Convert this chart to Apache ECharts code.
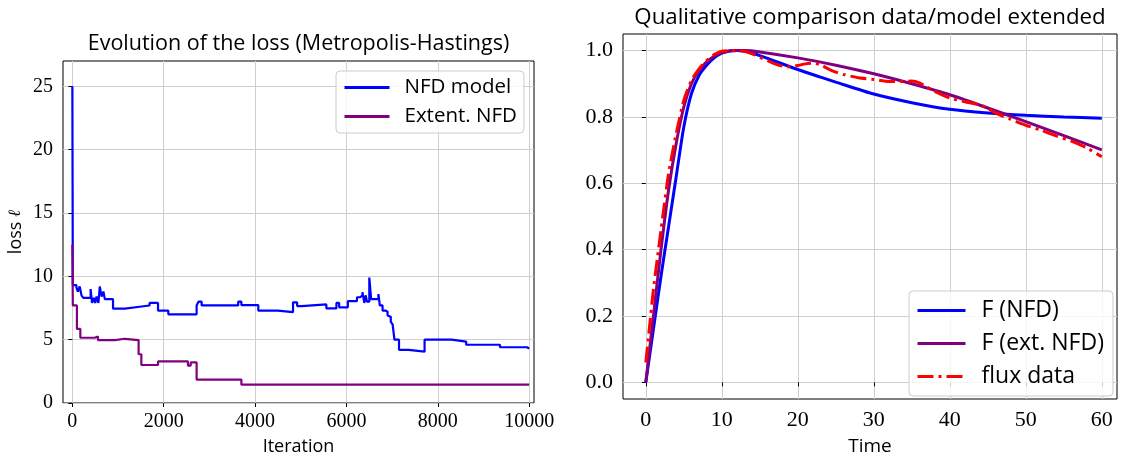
<!DOCTYPE html>
<html><head><meta charset="utf-8">
<script src="https://cdn.jsdelivr.net/npm/echarts@6/dist/echarts.min.js"></script>
<style>html,body{margin:0;padding:0;background:#fff}#c{width:1121px;height:461px}</style>
</head><body><div id="c"></div>
<script>
// ---- Left panel: loss evolution (Metropolis-Hastings) ----
const lossXTicks = [0, 2000, 4000, 6000, 8000, 10000];
const lossYTicks = [0, 5, 10, 15, 20, 25];
const nfdIter = [0,10,90,120,160,200,240,400,430,470,500,530,570,600,640,680,710,890,1150,1470,1690,1875,2100,2720,2760,2830,3630,3700,4070,4500,4830,4920,5020,5560,5780,5840,6030,6230,6300,6350,6390,6420,6450,6500,6540,6700,6730,6790,6850,6900,6930,6970,7010,7050,7150,7360,7710,8300,8620,9360,9950,10000];
const nfdLoss = [25.0,9.3,9.1,8.8,9.2,8.5,8.3,9.0,7.9,8.3,7.9,8.4,7.9,9.2,8.4,8.8,8.2,7.45,7.6,7.7,7.9,7.3,7.0,7.7,8.0,7.7,8.0,7.73,7.3,7.17,7.95,7.65,7.78,7.47,7.9,7.55,8.05,8.35,8.5,8.75,7.9,8.5,8.0,9.9,8.2,8.6,7.7,7.3,7.2,6.9,6.8,6.4,6.2,5.0,4.2,4.05,5.0,4.85,4.6,4.4,4.3,4.3];
const extIter = [0,10,100,175,490,560,930,1150,1450,1510,1875,2530,2590,2720,3700,10000];
const extLoss = [12.5,7.7,5.85,5.15,5.25,4.97,5.07,4.97,3.85,3.0,3.28,2.95,3.2,1.85,1.45,1.45];

// ---- Right panel: qualitative comparison ----
const timeXTicks = [0, 10, 20, 30, 40, 50, 60];
const fluxYTicks = [0, 0.2, 0.4, 0.6, 0.8, 1.0];
const nfdT = [0,1,2,3,4,5,6,7,8,9,10,11,12,13,14,15,17,20,23,25,30,35,40,45,50,55,60];
const nfdF = [0,0.16,0.32,0.47,0.62,0.77,0.87,0.925,0.956,0.978,0.992,0.999,1.0,0.998,0.992,0.985,0.968,0.943,0.92,0.905,0.869,0.843,0.823,0.812,0.805,0.8,0.796];
const extT = [0,1,2,3,4,5,6,7,8,9,10,11,12,13,15,20,25,30,35,40,45,50,55,60];
const extF = [0,0.2,0.4,0.58,0.72,0.83,0.9,0.94,0.966,0.983,0.994,0.999,1.0,1.0,0.996,0.978,0.956,0.93,0.9,0.867,0.827,0.786,0.744,0.701];
const fluxT = [0,0.5,1,1.5,2,3,4,5,6,7,8,9,10,11,12,13,14,15,16,17,18,19,20,21,22,23,24,25,26,28,30,32,34,35,36,37,38,40,42,44,45,46,48,50,52,54,56,58,60];
const fluxF = [0.06,0.17,0.28,0.37,0.46,0.63,0.75,0.85,0.91,0.945,0.97,0.988,0.998,1.0,1.0,0.998,0.99,0.98,0.97,0.96,0.953,0.951,0.955,0.96,0.962,0.957,0.945,0.935,0.928,0.918,0.913,0.907,0.907,0.908,0.903,0.89,0.877,0.857,0.846,0.836,0.826,0.812,0.793,0.775,0.76,0.743,0.727,0.707,0.68];

const zip = (a, b) => a.map((v, i) => [v, b[i]]);
const SANS = 'Open Sans';
const SERIF = 'Liberation Serif';
const gridLine = {show: true, lineStyle: {color: '#cfcfcf', width: 1}};
const tick = vals => ({show: true, inside: false, length: 4, lineStyle: {color: '#000', width: 1}, customValues: vals});
const legendBase = {
  orient: 'vertical', backgroundColor: 'rgba(255,255,255,0.8)', borderColor: '#cccccc', borderWidth: 1, borderRadius: 4,
  itemStyle: {opacity: 0, borderWidth: 0}, lineStyle: {width: 3}
};

const chart = echarts.init(document.getElementById('c'), null, {renderer: 'canvas'});
chart.setOption({
  animation: false,
  backgroundColor: '#fff',
  graphic: [
    {type: 'text', x: 298.5, y: 44, style: {text: 'Evolution of the loss (Metropolis-Hastings)', font: '21.5px ' + SANS, fill: '#000', textAlign: 'center', align: 'center', textVerticalAlign: 'middle', verticalAlign: 'middle'}},
    {type: 'text', x: 870, y: 18, style: {text: 'Qualitative comparison data/model extended', font: '22.3px ' + SANS, fill: '#000', textAlign: 'center', align: 'center', textVerticalAlign: 'middle', verticalAlign: 'middle'}}
  ],
  grid: [
    {left: 63, top: 61, width: 471, height: 351, show: true, borderColor: '#000', borderWidth: 1, backgroundColor: 'transparent', containLabel: false},
    {left: 623, top: 34, width: 494, height: 374, show: true, borderColor: '#000', borderWidth: 1, backgroundColor: 'transparent', containLabel: false}
  ],
  xAxis: [
    {type: 'value', gridIndex: 0, min: -205, max: 10105,
     axisLine: {show: false}, axisTick: tick(lossXTicks), splitLine: gridLine,
     axisLabel: {customValues: lossXTicks, margin: 9, fontFamily: SERIF, fontSize: 20, color: '#000', formatter: v => String(v)},
     name: 'Iteration', nameLocation: 'middle', nameGap: 35, nameTextStyle: {fontFamily: SANS, fontSize: 18, color: '#000'}},
    {type: 'value', gridIndex: 1, min: -3, max: 62,
     axisLine: {show: false}, axisTick: tick(timeXTicks), splitLine: gridLine,
     axisLabel: {customValues: timeXTicks, margin: 10, fontFamily: SERIF, fontSize: 22, color: '#000', formatter: v => String(v)},
     name: 'Time', nameLocation: 'middle', nameGap: 38, nameTextStyle: {fontFamily: SANS, fontSize: 19, color: '#000'}}
  ],
  yAxis: [
    {type: 'value', gridIndex: 0, min: 0, max: 27,
     axisLine: {show: false}, axisTick: tick(lossYTicks), splitLine: gridLine,
     axisLabel: {customValues: lossYTicks, margin: 10, fontFamily: SERIF, fontSize: 20, color: '#000', formatter: v => String(v)},
     name: 'loss {l|ℓ}', nameLocation: 'middle', nameGap: 38, nameRotate: 90,
     nameTextStyle: {fontFamily: SANS, fontSize: 18, color: '#000', rich: {l: {fontFamily: 'DejaVu Serif', fontStyle: 'italic', fontSize: 17, color: '#000'}}}},
    {type: 'value', gridIndex: 1, min: -0.05, max: 1.05,
     axisLine: {show: false}, axisTick: tick(fluxYTicks), splitLine: gridLine,
     axisLabel: {customValues: fluxYTicks, margin: 10, fontFamily: SERIF, fontSize: 22, color: '#000', formatter: v => v.toFixed(1)}}
  ],
  legend: [
    Object.assign({}, legendBase, {data: ['NFD model', 'Extent. NFD'], left: 336, top: 71,
     itemWidth: 45, itemHeight: 14, itemGap: 8, padding: [6, 7, 6, 7],
     textStyle: {fontFamily: SANS, fontSize: 20.5, color: '#000', padding: [0, 0, 0, 10]}}),
    Object.assign({}, legendBase, {data: ['F (NFD)', 'F (ext. NFD)', 'flux data'], left: 909, top: 291,
     itemWidth: 48, itemHeight: 14, itemGap: 10, padding: [8, 9, 8, 7],
     textStyle: {fontFamily: SANS, fontSize: 23, color: '#000', padding: [0, 0, 0, 11]}})
  ],
  series: [
    {name: 'NFD model', type: 'line', xAxisIndex: 0, yAxisIndex: 0, step: 'end', symbol: 'none',
     data: zip(nfdIter, nfdLoss), lineStyle: {color: '#0000ff', width: 2.2}, itemStyle: {color: '#0000ff'}},
    {name: 'Extent. NFD', type: 'line', xAxisIndex: 0, yAxisIndex: 0, step: 'end', symbol: 'none',
     data: zip(extIter, extLoss), lineStyle: {color: '#800080', width: 2.2}, itemStyle: {color: '#800080'}},
    {name: 'F (NFD)', type: 'line', xAxisIndex: 1, yAxisIndex: 1, symbol: 'none', smooth: 0.25,
     data: zip(nfdT, nfdF), lineStyle: {color: '#0000ff', width: 3}, itemStyle: {color: '#0000ff'}},
    {name: 'F (ext. NFD)', type: 'line', xAxisIndex: 1, yAxisIndex: 1, symbol: 'none', smooth: 0.25,
     data: zip(extT, extF), lineStyle: {color: '#800080', width: 3}, itemStyle: {color: '#800080'}},
    {name: 'flux data', type: 'line', xAxisIndex: 1, yAxisIndex: 1, symbol: 'none', smooth: 0.2,
     data: zip(fluxT, fluxF), lineStyle: {color: '#ff0000', width: 3, type: [16, 5, 3, 5]}, itemStyle: {color: '#ff0000'}}
  ]
});
</script></body></html>
